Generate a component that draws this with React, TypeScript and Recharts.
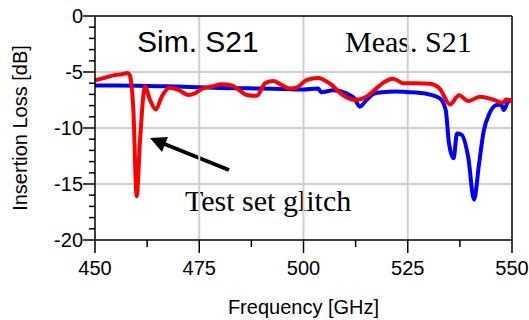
import React from "react";
import { Line, LineChart, ReferenceLine, XAxis, YAxis } from "recharts";

// blue trace (smooth)
const simFreq = [
  450, 455, 460, 465, 470, 475, 480, 485, 490, 495, 500, 503.5, 504.3, 507.1,
  510.3, 512.3, 513.5, 515.1, 517.1, 519, 522, 525, 529.5, 532.7, 534.1, 534.9,
  536, 536.8, 537.9, 539.5, 540.9, 542.1, 543.2, 544.6, 546.2, 547.4, 548, 549,
  550,
];
const simLoss = [
  -6.2, -6.2, -6.22, -6.27, -6.3, -6.37, -6.42, -6.45, -6.48, -6.52, -6.57, -6.48,
  -6.8, -6.63, -6.9, -7.4, -8.1, -7.5, -6.9, -6.8, -6.75, -6.8, -6.95, -7.35,
  -8.4, -11.4, -12.7, -10.5, -10.6, -12.6, -16.4, -13.2, -10.3, -8.7, -7.96,
  -7.9, -8.4, -7.7, -7.5,
];

// red trace (with the test set glitch)
const measFreq = [
  450, 452, 454.4, 456.5, 457.8, 458.3, 459.2, 460, 460.8, 462, 463.2, 464.6, 466,
  467.8, 470, 472.4, 474, 475.6, 478, 480.4, 482.8, 484.5, 486.4, 488.8, 490.8,
  492.8, 494.5, 496.7, 498.3, 500.7, 503.5, 506.3, 509.5, 512.3, 515.1, 517.9,
  519.1, 521.5, 523.9, 527.1, 530.3, 532.7, 535.1, 537.3, 539.5, 542.3, 545.5,
  547.8, 548.6, 550,
];
const measLoss = [
  -5.75, -5.55, -5.3, -5.2, -5.08, -5.25, -8.4, -16.1, -11.1, -6.3, -7.5, -8.35,
  -7.2, -6.4, -6.6, -7.05, -6.9, -6.5, -6.3, -6.1, -6.2, -6.6, -7.05, -7.13, -6.0,
  -5.8, -6.1, -6.48, -6.4, -5.73, -5.53, -6.03, -7.07, -7.5, -7.2, -6.33, -5.97,
  -5.6, -6.0, -6.0, -6.05, -6.5, -7.9, -7.07, -7.6, -7.2, -7.46, -7.75, -7.46,
  -7.58,
];

const xTicks = [450, 462.5, 475, 487.5, 500, 512.5, 525, 537.5, 550];
const yTicks = [
  -20, -19, -18, -17, -16, -15, -14, -13, -12, -11, -10, -9, -8, -7, -6, -5, -4,
  -3, -2, -1, 0,
];
const xGrid = [475, 500, 525];
const yGrid = [-5, -10, -15];

const simData = simFreq.map((freq, i) => ({ freq, loss: simLoss[i] }));
const measData = measFreq.map((freq, i) => ({ freq, loss: measLoss[i] }));

const sans = "'Liberation Sans', Arial, sans-serif";
const serif = "'Liberation Serif', 'Times New Roman', serif";

function XTick({ x, y, payload }: any) {
  const major = payload.value % 25 === 0;
  return (
    <g>
      <line x1={x} y1={y} x2={x} y2={y + (major ? 13 : 7)} stroke="#000" strokeWidth={1.5} />
      {major && (
        <text x={x} y={y + 35} textAnchor="middle" fontSize={20} fontFamily={sans} fill="#000">
          {payload.value}
        </text>
      )}
    </g>
  );
}

function YTick({ x, y, payload }: any) {
  const major = payload.value % 5 === 0;
  return (
    <g>
      <line x1={x} y1={y} x2={x - (major ? 12 : 6)} y2={y} stroke="#000" strokeWidth={1.5} />
      {major && (
        <text x={x - 12} y={y + 7} textAnchor="end" fontSize={20} fontFamily={sans} fill="#000">
          {payload.value}
        </text>
      )}
    </g>
  );
}

export default function App() {
  return (
    <div style={{ position: "absolute", left: 0, top: 0, width: 529, height: 320, background: "#fff" }}>
      <LineChart
        width={529}
        height={320}
        margin={{ top: 16, right: 17, bottom: 0, left: 0 }}
        style={{ fontFamily: sans }}
      >
        <XAxis
          dataKey="freq"
          type="number"
          domain={[450, 550]}
          ticks={xTicks}
          interval={0}
          height={80}
          tickSize={0}
          tickMargin={0}
          tickLine={false}
          tick={<XTick />}
          axisLine={{ stroke: "#000", strokeWidth: 1.5 }}
          label={{ value: "Frequency [GHz]", position: "insideBottom", offset: 6, fontSize: 20, fill: "#000" }}
        />
        <YAxis
          type="number"
          domain={[-20, 0]}
          ticks={yTicks}
          interval={0}
          width={95}
          tickSize={0}
          tickMargin={0}
          tickLine={false}
          tick={<YTick />}
          axisLine={{ stroke: "#000", strokeWidth: 1.5 }}
          label={{
            value: "Insertion Loss [dB]",
            angle: -90,
            position: "insideLeft",
            offset: 20,
            fontSize: 20,
            fill: "#000",
            style: { textAnchor: "middle" },
          }}
        />
        {xGrid.map((v) => (
          <ReferenceLine key={"x" + v} x={v} stroke="#cfcfcf" strokeWidth={2} />
        ))}
        {yGrid.map((v) => (
          <ReferenceLine key={"y" + v} y={v} stroke="#cfcfcf" strokeWidth={2} />
        ))}
        <ReferenceLine y={0} stroke="#000" strokeWidth={1.5} />
        <ReferenceLine x={550} stroke="#000" strokeWidth={1.5} />
        <Line
          data={simData}
          dataKey="loss"
          type="monotone"
          stroke="#0000ff"
          strokeWidth={4}
          dot={false}
          isAnimationActive={false}
        />
        <Line
          data={measData}
          dataKey="loss"
          type="monotone"
          stroke="#ff0000"
          strokeWidth={4}
          dot={false}
          isAnimationActive={false}
        />
        <g>
          <text x={137} y={52} fontSize={30} fontFamily={sans} fill="#000">
            Sim. S21
          </text>
          <text x={345} y={52} fontSize={30} fontFamily={serif} fill="#000">
            Meas. S21
          </text>
          <text x={185} y={211} fontSize={30} fontFamily={serif} fill="#000">
            Test set glitch
          </text>
          <line x1={229} y1={170} x2={162} y2={143} stroke="#000" strokeWidth={4} />
          <polygon points="150,138 168,137 162,152" fill="#000" />
        </g>
      </LineChart>
    </div>
  );
}
